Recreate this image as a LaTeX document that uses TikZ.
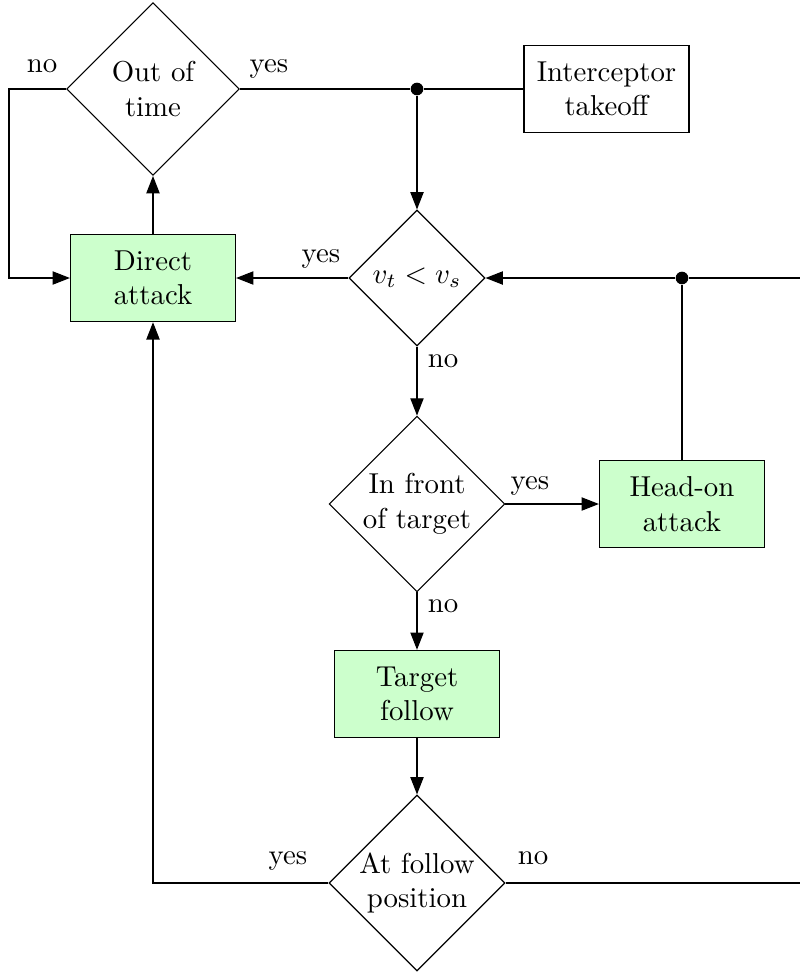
\documentclass[tikz,border=0pt]{standalone}
\usetikzlibrary{shapes.geometric,arrows.meta}
\definecolor{boxgreen}{HTML}{CCFFCC}
\begin{document}
\begin{tikzpicture}[x=0.3472pt,y=-0.3472pt,
  decision/.style={draw,diamond,inner sep=0pt,align=center,minimum width=#1,minimum height=#1},
  decision/.default=61pt,
  actbox/.style={draw,fill=boxgreen,align=center,minimum width=57.3pt,minimum height=30.3pt,inner sep=0pt},
  plainbox/.style={draw,align=center,minimum width=57.3pt,minimum height=30pt,inner sep=0pt},
  conn/.style={-{Triangle[length=6pt,width=4.6pt]}},
  dot/.style={circle,fill,inner sep=0pt,minimum size=4.4pt},
  lbl/.style={anchor=base,inner sep=0pt}]
\useasboundingbox (0,0) rectangle (800,974);
% nodes
\node[decision=60pt] (time) at (153,89) {Out of\\time};
\node[plainbox] (takeoff) at (606.5,89) {Interceptor\\takeoff};
\node[dot] (j1) at (417,89) {};
\node[decision=47.2pt] (vt) at (417,278) {$v_t < v_s$};
\node[actbox] (direct) at (153,278) {Direct\\attack};
\node[dot] (j2) at (682,278) {};
\node[decision] (front) at (417,504) {In front\\of target};
\node[actbox] (headon) at (682,504) {Head-on\\attack};
\node[actbox] (follow) at (417,694) {Target\\follow};
\node[decision] (pos) at (417,883) {At follow\\position};
\coordinate (lt) at (9,89);
\coordinate (rtop) at (800,278);
\coordinate (rbot) at (800,883);
% connectors
\draw (time.east) -- (j1) -- (takeoff.west);
\draw[conn] (j1) -- (vt.north);
\draw[conn] (time.west) -- (lt) |- (direct.west);
\draw[conn] (direct.north) -- (time.south);
\draw[conn] (vt.west) -- (direct.east);
\draw[conn] (rtop) -- (j2) -- (vt.east);
\draw (headon.north) -- (j2);
\draw[conn] (vt.south) -- (front.north);
\draw[conn] (front.east) -- (headon.west);
\draw[conn] (front.south) -- (follow.north);
\draw[conn] (follow.south) -- (pos.north);
\draw[conn] (pos.west) -| (direct.south);
\draw (pos.east) -- (rbot);
% labels
\node[lbl] (l1) at (42,72) {no};
\node[lbl] (l2) at (269,72) {yes};
\node[lbl] (l3) at (321,262) {yes};
\node[lbl] (l4) at (443,367) {no};
\node[lbl] (l5) at (530,489) {yes};
\node[lbl] (l6) at (443,612) {no};
\node[lbl] (l7) at (288,864) {yes};
\node[lbl] (l8) at (533,864) {no};
\end{tikzpicture}
\end{document}
